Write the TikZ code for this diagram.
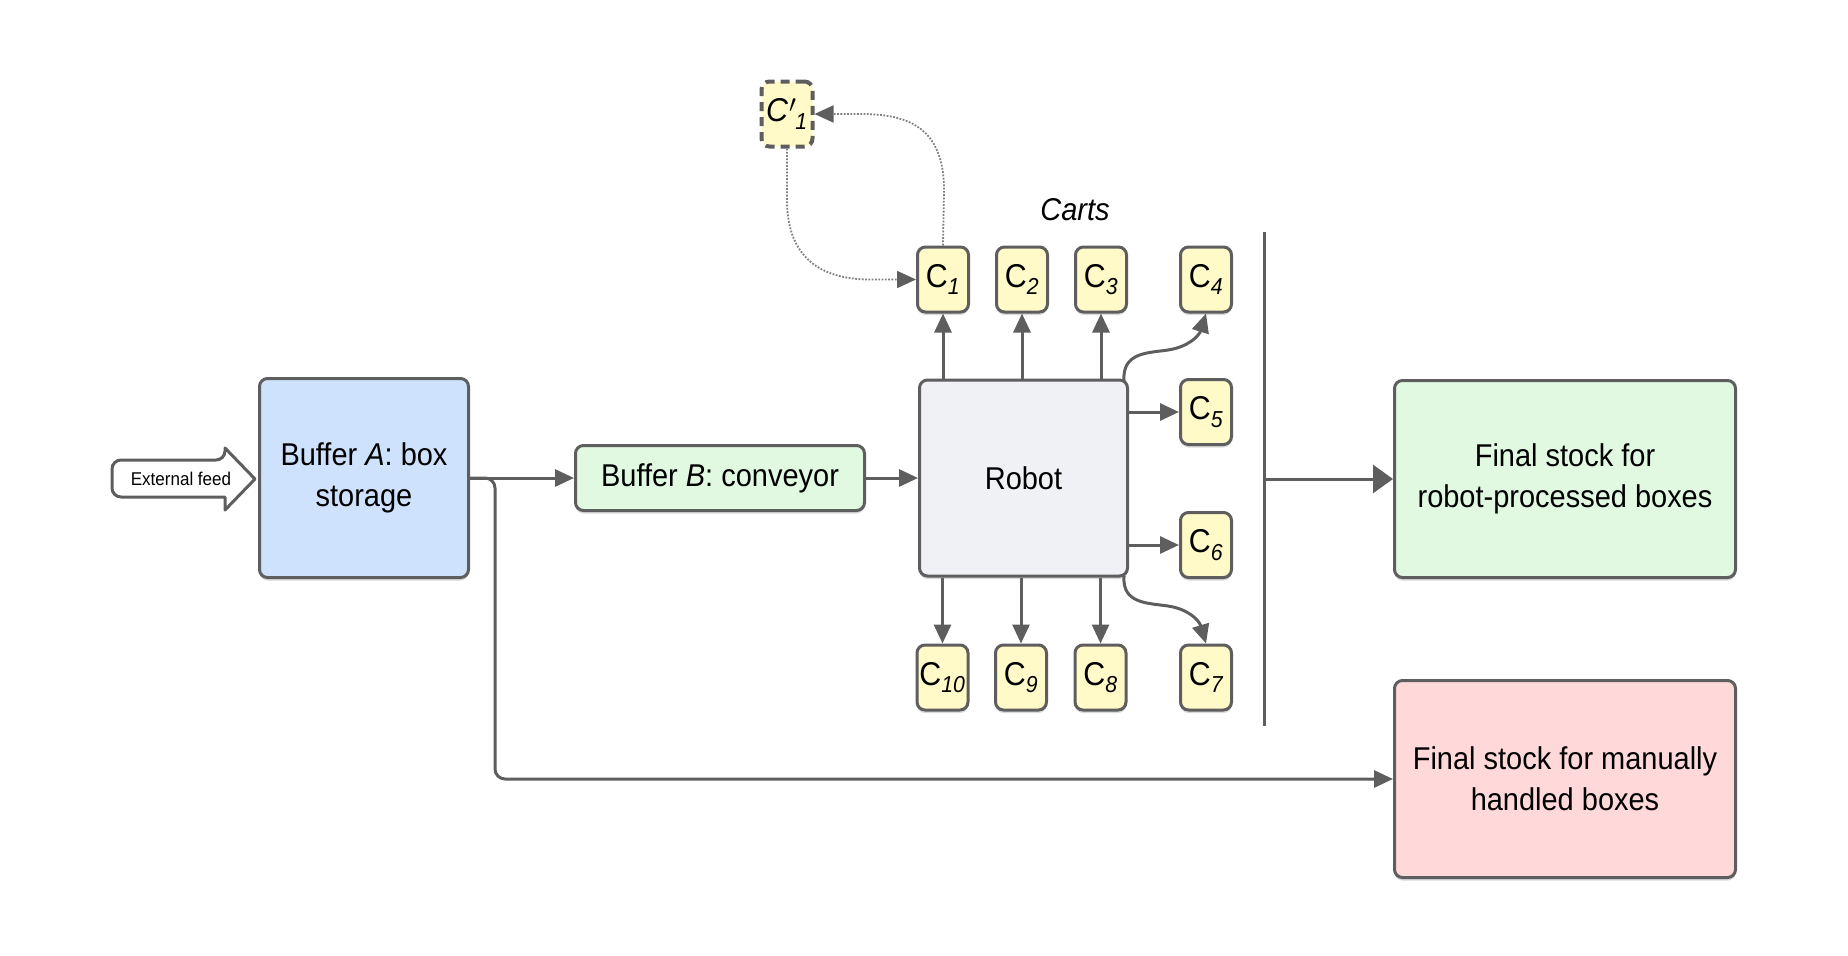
\documentclass[tikz,border=0pt]{standalone}
\usepackage{fontspec}
\setmainfont{Liberation Sans}[FakeStretch=0.92]
\usetikzlibrary{arrows.meta,shadows,calc}
\definecolor{edge}{HTML}{5E5E5E}
\definecolor{blueA}{HTML}{CFE2FD}
\definecolor{greenB}{HTML}{E1F8E1}
\definecolor{robotgray}{HTML}{F0F1F4}
\definecolor{cartyellow}{HTML}{FFFAC8}
\definecolor{pinkM}{HTML}{FFD9DA}
\definecolor{dotgray}{HTML}{808080}
\begin{document}
\begin{tikzpicture}[x=1pt,y=-1pt,
  softshadow/.style={drop shadow={shadow xshift=0pt,shadow yshift=-3pt,opacity=0.25,fill=black!60}},
  box/.style={draw=edge, line width=3pt, rounded corners=8pt, align=center,
    font=\fontsize{31.5}{41}\selectfont, inner sep=0pt, softshadow},
  cart/.style={draw=edge, line width=3pt, rounded corners=8pt, fill=cartyellow,
    minimum width=51pt, minimum height=65pt, inner sep=0pt,
    font=\fontsize{33}{38}\selectfont, softshadow},
  ghostcart/.style={draw=edge, line width=4pt, rounded corners=8pt, fill=cartyellow,
    dash pattern=on 9pt off 6pt, minimum width=51pt, minimum height=65pt, inner sep=0pt,
    font=\fontsize{33}{38}\selectfont\itshape},
  conn/.style={draw=edge, line width=3pt},
  arr/.style={conn, -{Triangle[length=19pt,width=17pt]}},
  bigarr/.style={conn, -{Triangle[length=20pt,width=28pt]}},
  dotarr/.style={draw=dotgray, line width=1.8pt, dash pattern=on 1.8pt off 1.5pt,
    -{Triangle[length=19pt,width=17pt,fill=edge,color=edge]}},
  plain/.style={font=\fontsize{31.5}{36}\selectfont}
]
\useasboundingbox (0,0) rectangle (1848,956);

% external feed arrow shape
\draw[edge, line width=3pt, fill=white, line join=round]
  (225,448) -- (255,479) -- (225,510) -- (225,497)
  [rounded corners=9pt] -- (112,497) -- (112,460) -- (225,460) [sharp corners] -- cycle;
\node[font=\fontsize{18.5}{22}\selectfont] (feed) at (181,479) {External feed};

% main boxes
\node[box, fill=blueA, minimum width=209pt, minimum height=199pt] (bufA) at (364,478) {Buffer \textit{A}: box\\storage};
\node[box, fill=greenB, minimum width=289pt, minimum height=65pt] (bufB) at (720,478) {Buffer \textit{B}: conveyor};
\node[box, fill=robotgray, minimum width=208pt, minimum height=196pt] (robot) at (1023.5,478) {Robot};
\node[box, fill=greenB, minimum width=341pt, minimum height=197pt] (finR) at (1565,479) {Final stock for\\robot-processed boxes};
\node[box, fill=pinkM, minimum width=341pt, minimum height=197pt] (finM) at (1565,779) {Final stock for manually\\handled boxes};

% carts
\node[cart] (c1) at (943,279.5) {C\textsubscript{\itshape 1}};
\node[cart] (c2) at (1022,279.5) {C\textsubscript{\itshape 2}};
\node[cart] (c3) at (1101,279.5) {C\textsubscript{\itshape 3}};
\node[cart] (c4) at (1206,279.5) {C\textsubscript{\itshape 4}};
\node[cart] (c5) at (1206,412) {C\textsubscript{\itshape 5}};
\node[cart] (c6) at (1206,545) {C\textsubscript{\itshape 6}};
\node[cart] (c7) at (1206,677.5) {C\textsubscript{\itshape 7}};
\node[cart] (c8) at (1100.5,677.5) {C\textsubscript{\itshape 8}};
\node[cart] (c9) at (1021,677.5) {C\textsubscript{\itshape 9}};
\node[cart] (c10) at (942.5,677.5) {C\textsubscript{\itshape 10}};
\node[ghostcart] (cp) at (787,114) {C\kern1pt$'$\kern-1pt\textsubscript{1}};

\node[plain, font=\fontsize{31.5}{36}\selectfont\itshape] (carts) at (1075,210) {Carts};

% flow
\draw[arr] (bufA.east) -- (bufB.west);
\draw[arr] (bufB.east) -- (robot.west);
\coordinate (branch) at (495,478);
\draw[arr, rounded corners=10pt] (bufA.east) -- (branch) -- (branch |- finM.west) -- (finM.west);

% robot to carts
\foreach \c in {c1,c2,c3} \draw[arr] (robot.north -| \c) -- (\c.south);
\foreach \c in {c10,c9,c8} \draw[arr] (robot.south -| \c) -- (\c.north);
\foreach \c in {c5,c6} \draw[arr] (robot.east |- \c) -- (\c.west);
\coordinate (rne) at (1124,381);
\coordinate (rse) at (1124,576);
\draw[arr] (rne) .. controls (1122,352) and (1148,353) .. (1168,350)
  .. controls (1188,347) and (1199,336) .. (c4.south);
\draw[arr] (rse) .. controls (1122,604) and (1148,603) .. (1168,606)
  .. controls (1188,609) and (1199,620) .. (c7.north);

% collector line
\coordinate (vtop) at (1264,232);
\coordinate (vbot) at (1264,726);
\coordinate (vmid) at (1264,479);
\draw[conn] (vtop) -- (vbot);
\draw[bigarr] (vmid) -- (finR.west);

% dotted loop with the replacement cart
\draw[dotarr] (c1.north) -- (944,190) .. controls (944,125) and (905,114) .. (860,114) -- (cp.east);
\draw[dotarr] (cp.south) -- (787,200) .. controls (787,265) and (830,279.5) .. (870,279.5) -- (c1.west);
\end{tikzpicture}
\end{document}
